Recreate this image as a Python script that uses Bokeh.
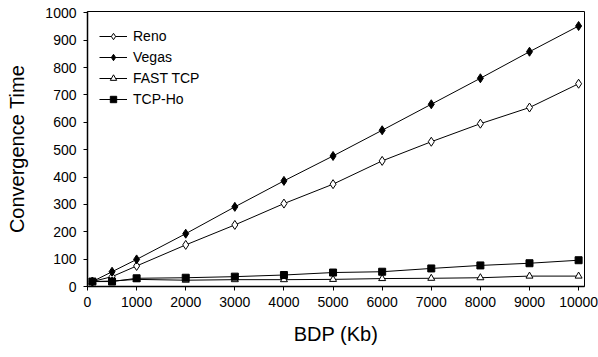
from bokeh.plotting import figure
from bokeh.models import Range1d, Legend, LegendItem, FixedTicker
from bokeh.embed import file_html
from bokeh.resources import INLINE

bdp = [100, 500, 1000, 2000, 3000, 4000, 5000, 6000, 7000, 8000, 9000, 10000]
reno = [18, 36, 75, 152, 225, 303, 374, 459, 529, 595, 654, 741]
vegas = [18, 54, 99, 193, 291, 386, 477, 571, 666, 761, 858, 952]
fast_tcp = [18, 20, 26, 23, 25, 25, 26, 29, 30, 32, 38, 38]
tcp_ho = [18, 18, 30, 32, 36, 42, 51, 54, 66, 77, 85, 96]
x_ticks = [0, 1000, 2000, 3000, 4000, 5000, 6000, 7000, 8000, 9000, 10000]
y_ticks = [0, 100, 200, 300, 400, 500, 600, 700, 800, 900, 1000]

FONT = "Liberation Sans"

p = figure(width=598, height=357, output_backend="svg", toolbar_location=None,
           x_range=Range1d(0, 10120), y_range=Range1d(0, 1005),
           min_border_left=87, min_border_right=14, min_border_top=11, min_border_bottom=71)
p.xgrid.visible = False
p.ygrid.visible = False
p.outline_line_color = "black"
p.outline_line_width = 1
p.background_fill_color = "white"
p.border_fill_color = "white"

for ax in (p.xaxis[0], p.yaxis[0]):
    ax.axis_line_color = "black"
    ax.axis_line_width = 1.5
    ax.major_tick_line_color = "black"
    ax.minor_tick_line_color = None
    ax.major_label_text_font = FONT
    ax.major_label_text_font_size = "14px"
    ax.major_label_text_color = "black"
    ax.axis_label_text_font = FONT
    ax.axis_label_text_font_size = "20px"
    ax.axis_label_text_font_style = "normal"
    ax.axis_label_text_color = "black"
    ax.major_tick_in = 0
    ax.major_tick_out = 4

p.xaxis.ticker = FixedTicker(ticks=x_ticks)
p.yaxis.ticker = FixedTicker(ticks=y_ticks)
p.xaxis.axis_label = "BDP (Kb)"
p.yaxis.axis_label = "Convergence Time"
p.xaxis.major_label_standoff = 6
p.yaxis.major_label_standoff = 7
p.xaxis.axis_label_standoff = 13
p.yaxis.axis_label_standoff = 14

items = []
r1 = p.line(bdp, reno, line_color="black", line_width=1)
m1 = p.scatter(bdp, reno, marker="diamond", size=9, fill_color="white", line_color="black", line_width=1)
items.append(LegendItem(label="Reno", renderers=[r1, m1]))
r2 = p.line(bdp, vegas, line_color="black", line_width=1)
m2 = p.scatter(bdp, vegas, marker="diamond", size=9, fill_color="black", line_color="black", line_width=1)
items.append(LegendItem(label="Vegas", renderers=[r2, m2]))
r3 = p.line(bdp, fast_tcp, line_color="black", line_width=1)
m3 = p.scatter(bdp, fast_tcp, marker="triangle", size=7, fill_color="white", line_color="black", line_width=1)
items.append(LegendItem(label="FAST TCP", renderers=[r3, m3]))
r4 = p.line(bdp, tcp_ho, line_color="black", line_width=1)
m4 = p.scatter(bdp, tcp_ho, marker="square", size=7, fill_color="black", line_color="black", line_width=1)
items.append(LegendItem(label="TCP-Ho", renderers=[r4, m4]))

legend = Legend(items=items, location=(12, 179))
legend.border_line_color = None
legend.background_fill_alpha = 0
legend.label_text_font = FONT
legend.label_text_font_size = "14px"
legend.label_text_color = "black"
legend.glyph_width = 28
legend.glyph_height = 16
legend.label_height = 16
legend.spacing = 5
legend.padding = 4
legend.margin = 0
legend.label_standoff = 6
p.add_layout(legend)

open("out.html", "w").write(file_html(p, INLINE))
